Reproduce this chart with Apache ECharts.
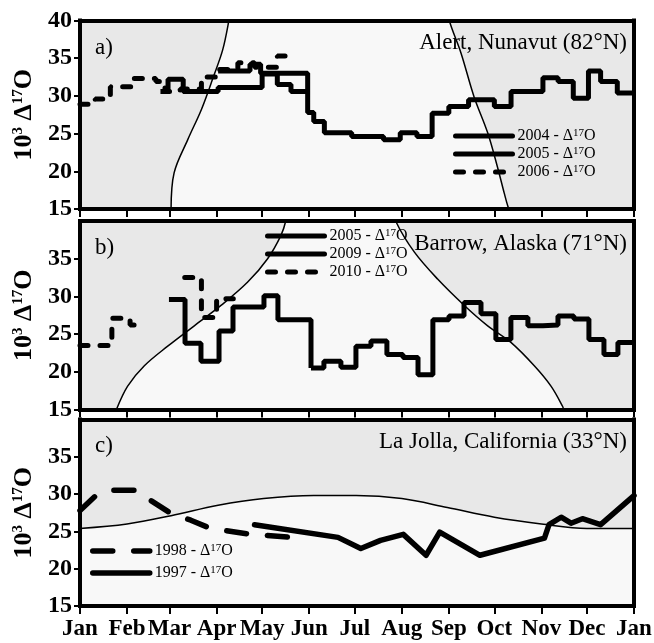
<!DOCTYPE html>
<html>
<head>
<meta charset="utf-8">
<script src="https://cdn.jsdelivr.net/npm/echarts@6/dist/echarts.min.js"></script>
<style>
html,body{margin:0;padding:0;background:#fff;}
#chart{width:654px;height:643px;}
</style>
</head>
<body>
<div id="chart"></div>
<script>
// ---- axis ticks / labels ----
const monthNames = ['Jan','Feb','Mar','Apr','May','Jun','Jul','Aug','Sep','Oct','Nov','Dec','Jan'];
const monthDays = [0,31,59,90,120,151,181,212,243,273,304,334,365];
const yTicks = [15,20,25,30,35,40];

// ---- daylight region boundaries (day of year, value on the axis scale) ----
const aDaylight = [[60,15],[62,19.8],[71,24.2],[80,28.2],[88,32.6],[94,36.1],[98,39.9],[99.5,42],
  [242,42],[243.3,40],[251,35.7],[259.6,29.9],[268.6,25.1],[275,20.6],[279.5,17.1],[282,15.3],[283,15]];
const bDaylight = [[24,15],[31.4,18.1],[42.4,20.8],[57.8,23.4],[75.3,26.1],[92.9,28.8],[110.5,31.9],[123.6,35],[132.4,38.1],[135.7,40.1],[137,42],
  [206,42],[208.2,39.9],[220.2,35.9],[235.6,32.3],[253.2,28.8],[268.6,26.1],[283.9,23.9],[299.3,20.8],[310.3,18.1],[318,15.4],[318.5,15]];
const cDaylight = [[0,25.4],[31,26.0],[60,27.1],[91,28.5],[121,29.4],[154,29.8],[182,29.8],[212,29.4],[242,28.2],[273,26.9],[304,26.0],[334,25.4],[365,25.4]];

// ---- panel a) Alert ----
const alert2004 = [[91,33.3],[112,34.2],[119,33.0],[139,33.0],[150,27.8],[154,26.6],[161,25.1],[179,24.6],[200,24.2],[211,25.1],[222,24.6],[232,27.7],[243,28.6],[256,29.5],[273,28.6],[284,30.6],[305,32.4],[315,31.9],[325,29.7],[335,33.3],[343,31.9],[354,30.4],[365,30.4]];
const alert2005 = [[53,30.6],[58,32.2],[68,30.6],[79,30.6],[91,31.1],[112,31.1],[120,32.9],[130,31.5],[139,30.6],[150,30.6]];
const alert2006 = [[0,28.9],[10,29.6],[20,31.2],[35,32.3],[50,31.9],[56,30.6],[66,30.9],[80,32.5],[91,33.5],[104,34.4],[115,33.8],[130,35.3],[140,35.3]];

// ---- panel b) Barrow ----
const barrow2005 = [[58.6,29.6],[69.2,23.8],[79.7,21.4],[91.6,25.4],[100.8,28.6],[121.2,30.1],[130.4,26.9],[152.2,20.5]];
const barrow2009 = [[152.2,20.5],[160.7,21.4],[171.9,20.6],[181.8,23.4],[191.7,24.1],[202.2,22.3],[212.8,21.9],[222.7,19.6],[232.5,26.9],[243.1,27.4],[253,29.2],[264.2,27.7],[274,24.3],[283.9,27.2],[295.1,26.1],[305,26.2],[314.9,27.4],[325.4,27.0],[335.3,24.3],[345.2,22.3],[354.4,23.9],[365,23.9]];
const barrow2010 = [[0,23.5],[21,27.1],[33,26.2],[42,26.2]];
const barrow2010b = [[69,32.5],[80,27.2],[90,29.7],[101,29.7]];

// ---- panel c) La Jolla ----
const lajolla1998 = [[0,27.8],[12,30.1],[22,30.5],[38,30.5],[47,29.1],[60,27.4],[73,26.5],[86,25.4],[113,24.6],[140,24.2]];
const lajolla1997 = [[115,25.9],[170,24.2],[185,22.7],[198,23.8],[213,24.6],[228,21.8],[237,24.9],[263.5,21.8],[306,24.1],[309,25.9],[317,26.9],[323.5,26.1],[331,26.7],[343,25.9],[365,29.8]];

const legendLabels = {
  a2004:'2004', a2005:'2005', a2006:'2006',
  b2005:'2005', b2009:'2009', b2010:'2010',
  c1998:'1998', c1997:'1997'
};

const serif = '"Liberation Serif", "Times New Roman", serif';
const grids = [
  {left:80, right:20, top:20.5, height:188.5},
  {left:80, right:20, top:221, height:188.5},
  {left:80, right:20, top:419.5, height:186.5}
];

const frameLine = {show:true, onZero:false, lineStyle:{color:'#000', width:4, cap:'square'}};
const xAxes = [], yAxes = [];
grids.forEach((g, i) => {
  xAxes.push({
    type:'value', gridIndex:i, min:0, max:365, position:'bottom', z:5,
    axisLine:frameLine, splitLine:{show:false},
    axisTick:{show:true, customValues:monthDays, length:8, lineStyle:{color:'#000', width:2}},
    axisLabel:{show:i===2, customValues:monthDays, margin:12,
      formatter:(v)=>monthNames[monthDays.indexOf(v)],
      fontFamily:serif, fontWeight:'bold', fontSize:23, color:'#000'}
  });
  xAxes.push({
    type:'value', gridIndex:i, min:0, max:365, position:'top', z:5,
    axisLine:frameLine, splitLine:{show:false}, axisTick:{show:false}, axisLabel:{show:false}
  });
  yAxes.push({
    type:'value', gridIndex:i, min:15, max:40, interval:5, position:'left', z:5,
    axisLine:frameLine, splitLine:{show:false},
    axisTick:{show:true, length:6, lineStyle:{color:'#000', width:2}},
    axisLabel:{margin:8, showMaxLabel:i===0, fontFamily:serif, fontWeight:'bold', fontSize:24, color:'#000'},
    name:'{b|10}{s|3}{b| Δ}{s|17}{b|O}', nameLocation:'middle', nameRotate:90, nameGap:35,
    nameTextStyle:{rich:{
      b:{fontFamily:serif, fontWeight:'bold', fontSize:26, color:'#000', lineHeight:26},
      s:{fontFamily:serif, fontWeight:'bold', fontSize:15, color:'#000', verticalAlign:'top', lineHeight:15}
    }}
  });
  yAxes.push({
    type:'value', gridIndex:i, min:15, max:40, interval:5, position:'right', z:5,
    axisLine:frameLine, splitLine:{show:false}, axisTick:{show:false}, axisLabel:{show:false}
  });
});

function daylight(i, data){
  return {type:'line', xAxisIndex:2*i, yAxisIndex:2*i, data:data, smooth:0.35,
    symbol:'none', silent:true, z:1, itemStyle:{color:'#000'},
    lineStyle:{color:'#000', width:1.5}, areaStyle:{color:'#f8f8f8', opacity:1, origin:'start'}};
}
function stepSeries(i, name, data, dashed){
  return {type:'line', name:name, xAxisIndex:2*i, yAxisIndex:2*i, data:data, step:'end',
    symbol:'none', z:3, itemStyle:{color:'#000'},
    lineStyle:{color:'#000', width:5, type: dashed ? [8,12] : 'solid', cap: dashed ? 'round' : 'butt'}};
}
function plainSeries(i, name, data, dashed){
  return {type:'line', name:name, xAxisIndex:2*i, yAxisIndex:2*i, data:data,
    symbol:'none', z:3, itemStyle:{color:'#000'},
    lineStyle:{color:'#000', width:5.5, type: dashed ? [20,21] : 'solid', cap:'round', join:'round'}};
}

const legendText = {
  fontFamily:serif, color:'#000',
  rich:{
    t:{fontFamily:serif, fontSize:16, color:'#000'},
    s:{fontFamily:serif, fontSize:11, color:'#000', verticalAlign:'top'}
  }
};
const legendFmt = (n) => '{t|' + legendLabels[n] + ' - Δ}{s|17}{t|O}';
function legend(names, left, top, gap, lw){
  return {data:names, left:left, top:top, orient:'vertical', itemWidth:57, itemHeight:14,
    itemGap:gap, padding:0, selectedMode:false, formatter:legendFmt, textStyle:legendText,
    itemStyle:{opacity:0, color:'transparent', borderWidth:0},
    lineStyle:{width:lw, color:'#000', cap:'round'}};
}

const titleStyle = {fontFamily:serif, fontSize:23, fontWeight:'normal', color:'#000'};
const option = {
  animation:false,
  backgroundColor:'#fff',
  grid: grids.map(g => Object.assign({show:true, backgroundColor:'#e8e8e8', borderWidth:0, outerBoundsMode:'none', containLabel:false}, g)),
  xAxis: xAxes,
  yAxis: yAxes,
  title: [
    {text:'a)', left:95, top:36, padding:0, textStyle:titleStyle},
    {text:'Alert, Nunavut (82°N)', right:27, top:31.5, padding:0, textStyle:titleStyle},
    {text:'b)', left:95, top:236.5, padding:0, textStyle:titleStyle},
    {text:'Barrow, Alaska (71°N)', right:27, top:232.5, padding:0, textStyle:titleStyle},
    {text:'c)', left:95, top:434.5, padding:0, textStyle:titleStyle},
    {text:'La Jolla, California (33°N)', right:27, top:430.5, padding:0, textStyle:titleStyle}
  ],
  legend: [
    legend(['a2004','a2005','a2006'], 453, 128, 2, 5),
    legend(['b2005','b2009','b2010'], 265, 228, 2, 5),
    legend(['c1998','c1997'], 90, 543, 6, 5.5)
  ],
  series: [
    daylight(0, aDaylight),
    daylight(1, bDaylight),
    daylight(2, cDaylight),
    stepSeries(0, 'a2006', alert2006, true),
    stepSeries(0, 'a2005', alert2005, false),
    stepSeries(0, 'a2004', alert2004, false),
    stepSeries(1, 'b2010', barrow2010, true),
    stepSeries(1, 'b2010x', barrow2010b, true),
    stepSeries(1, 'b2005', barrow2005, false),
    stepSeries(1, 'b2009', barrow2009, false),
    plainSeries(2, 'c1998', lajolla1998, true),
    plainSeries(2, 'c1997', lajolla1997, false)
  ]
};
const chart = echarts.init(document.getElementById('chart'), null, {renderer:'canvas'});
chart.setOption(option);
</script>
</body>
</html>
